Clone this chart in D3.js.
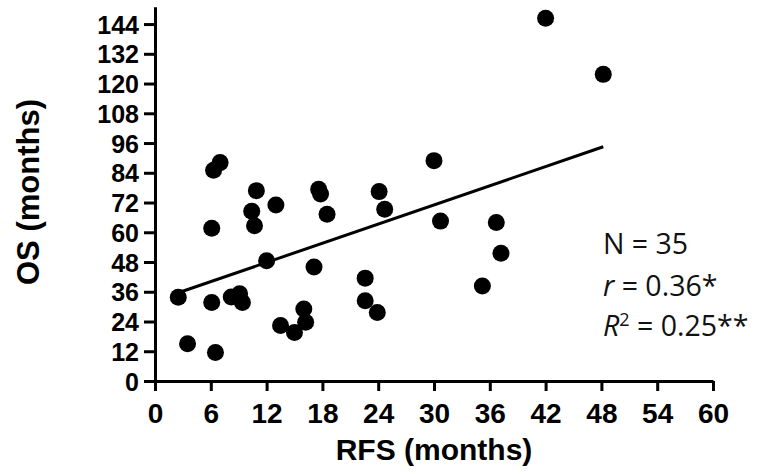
<!DOCTYPE html>
<html>
<head>
<meta charset="utf-8">
<script src="https://d3js.org/d3.v7.min.js"></script>
<style>
  body { margin: 0; background: #fff; }
  svg { display: block; }
  .axis path, .axis line { stroke: #000; stroke-width: 3; }
  .axis text { font-family: "Liberation Sans", Arial, sans-serif; font-weight: bold; fill: #000; }
</style>
</head>
<body>
<svg id="chart" width="758" height="474"></svg>
<script>
// RFS (x) and OS (y) in months
const rfs = [7.0, 6.3, 10.9, 13.0, 10.4, 10.7, 6.1, 12.0, 2.5, 6.1, 8.2, 9.1, 9.4, 13.5, 3.5, 6.5,
             17.6, 17.8, 24.1, 18.5, 24.7, 17.1, 22.6, 22.6, 23.9, 16.0, 16.2, 15.0,
             30.0, 30.7, 36.7, 37.2, 35.2, 42.0, 48.2];
const os  = [88.1, 85.0, 76.8, 71.0, 68.5, 62.6, 61.6, 48.5, 33.8, 31.7, 33.9, 35.2, 31.7, 22.4, 15.0, 11.5,
             77.4, 75.4, 76.4, 67.3, 69.3, 46.0, 41.5, 32.4, 27.6, 29.0, 23.7, 19.6,
             88.9, 64.5, 63.9, 51.5, 38.3, 146.3, 123.7];

// fitted line end points as drawn
const fitX = [2.5, 48.2];
const fitY = [35.6, 94.5];

const xTicks = [0, 6, 12, 18, 24, 30, 36, 42, 48, 54, 60];
const yTicks = [0, 12, 24, 36, 48, 60, 72, 84, 96, 108, 120, 132, 144];

const stats = ["N = 35", "r = 0.36*", "R2 = 0.25**"];

const svg = d3.select("#chart");

const x = d3.scaleLinear().domain([0, 60]).range([155, 713]);
const y = d3.scaleLinear().domain([0, 151]).range([381, 6.7]);

// x axis
const gx = svg.append("g")
    .attr("class", "axis")
    .attr("transform", "translate(0," + y(0) + ")")
    .call(d3.axisBottom(x).tickValues(xTicks).tickSize(10).tickSizeOuter(0));
gx.selectAll("text")
    .attr("y", 41.5)
    .attr("dy", null)
    .style("font-size", "28px");

// y axis
const gy = svg.append("g")
    .attr("class", "axis")
    .attr("transform", "translate(" + x(0) + ",0)")
    .call(d3.axisLeft(y).tickValues(yTicks).tickSize(11).tickPadding(5).tickSizeOuter(0));
gy.selectAll("text")
    .attr("dy", "0.36em")
    .style("font-size", "25px");

// axis titles
svg.append("text")
    .attr("x", 434)
    .attr("y", 460)
    .attr("text-anchor", "middle")
    .style("font-family", "Liberation Sans, Arial, sans-serif")
    .style("font-weight", "bold")
    .style("font-size", "30px")
    .text("RFS (months)");

svg.append("text")
    .attr("transform", "translate(39,192) rotate(-90)")
    .attr("text-anchor", "middle")
    .style("font-family", "Liberation Sans, Arial, sans-serif")
    .style("font-weight", "bold")
    .style("font-size", "31px")
    .text("OS (months)");

// regression line
svg.append("line")
    .attr("x1", x(fitX[0]))
    .attr("y1", y(fitY[0]))
    .attr("x2", x(fitX[1]))
    .attr("y2", y(fitY[1]))
    .attr("stroke", "#000")
    .attr("stroke-width", 3);

// points
svg.append("g")
    .selectAll("circle")
    .data(rfs)
    .join("circle")
    .attr("cx", d => x(d))
    .attr("cy", (d, i) => y(os[i]))
    .attr("r", 8.5)
    .attr("fill", "#000");

// stats block
const st = svg.append("text")
    .style("font-family", "Open Sans, Noto Sans, sans-serif")
    .style("font-size", "28.5px")
    .attr("fill", "#111");

st.append("tspan").attr("x", 603).attr("y", 254).text(stats[0]);

const l2 = st.append("tspan").attr("x", 603).attr("y", 296);
l2.append("tspan").style("font-style", "italic").text("r");
l2.append("tspan").text(stats[1].slice(1));

const l3 = st.append("tspan").attr("x", 603).attr("y", 336);
l3.append("tspan").style("font-style", "italic").text("R");
l3.append("tspan").attr("dy", -10).style("font-size", "18px").text("2");
l3.append("tspan").attr("dy", 10).text(stats[2].slice(2));
</script>
</body>
</html>
